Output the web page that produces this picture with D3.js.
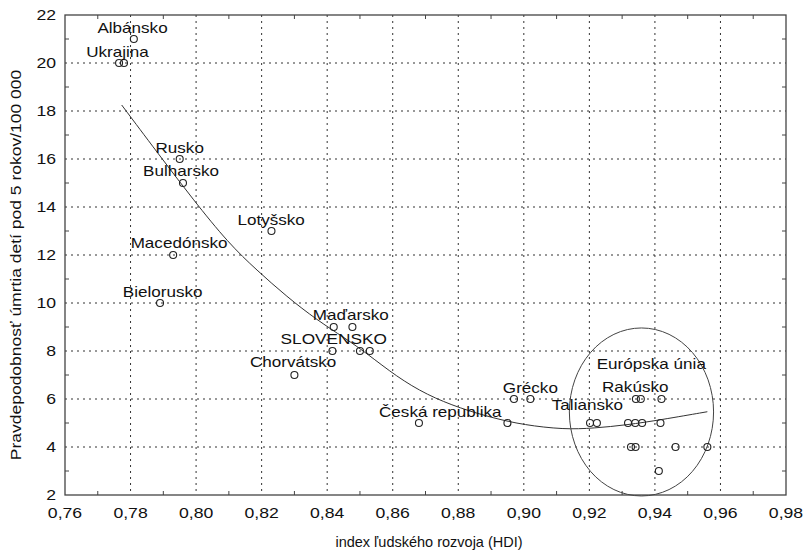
<!DOCTYPE html>
<html lang="sk">
<head>
<meta charset="UTF-8">
<title>HDI a úmrtnosť detí</title>
<script src="https://d3js.org/d3.v7.min.js"></script>
<style>
  body { margin: 0; background: #fff; }
  svg text { font-family: "Liberation Sans", Arial, sans-serif; fill: #111; }
  .grid line { stroke: #333; stroke-width: 1; stroke-dasharray: 2,4; }
  .frame { fill: none; stroke: #444; stroke-width: 1.3; }
  .minor line { stroke: #444; }
  .pt { fill: none; stroke: #222; stroke-width: 1.1; }
  .fit { fill: none; stroke: #333; stroke-width: 1; }
  .eu { fill: none; stroke: #444; stroke-width: 1; }
</style>
</head>
<body>
<svg width="803" height="552"></svg>
<script>
// axis ticks
const xTicks = [0.76, 0.78, 0.80, 0.82, 0.84, 0.86, 0.88, 0.90, 0.92, 0.94, 0.96, 0.98];
const yTicks = [2, 4, 6, 8, 10, 12, 14, 16, 18, 20, 22];

// observations: HDI vs. mortality under 5 (per 100 000)
const hdi = [0.781, 0.7765, 0.778, 0.795, 0.796, 0.823, 0.793, 0.789,
             0.842, 0.8477, 0.8416, 0.850, 0.853, 0.830, 0.868, 0.895,
             0.897, 0.902, 0.9342, 0.9357, 0.942, 0.9202, 0.9223, 0.9318,
             0.934, 0.9361, 0.9417, 0.9327, 0.9341, 0.9463, 0.956, 0.9412];
const mortality = [21, 20, 20, 16, 15, 13, 12, 10,
                   9, 9, 8, 8, 8, 7, 5, 5,
                   6, 6, 6, 6, 6, 5, 5, 5,
                   5, 5, 5, 4, 4, 4, 4, 3];

// fitted curve
const fitX = [0.7773, 0.788, 0.7992, 0.8099, 0.8185, 0.8277, 0.8369, 0.8455, 0.8521,
              0.8612, 0.8704, 0.8806, 0.8908, 0.900, 0.9122, 0.9213, 0.9315, 0.9417, 0.956];
const fitY = [18.25, 16.3, 14.29, 12.49, 11.37, 10.26, 9.29, 8.53, 7.90,
              6.93, 6.17, 5.61, 5.2, 4.92, 4.73, 4.78, 4.92, 5.13, 5.47];

// country labels (anchor in data units)
const labelText = ["Albánsko", "Ukrajina", "Rusko", "Bulharsko", "Lotyšsko", "Macedónsko",
                   "Bielorusko", "Maďarsko", "SLOVENSKO", "Chorvátsko", "Česká republika",
                   "Grécko", "Taliansko", "Rakúsko", "Európska únia"];
const labelX = [0.7806, 0.7760, 0.7950, 0.7954, 0.8229, 0.7948, 0.7898, 0.8472, 0.8420,
                0.8296, 0.8745, 0.9020, 0.9194, 0.9340, 0.9389];
const labelY = [21.25, 20.25, 16.25, 15.29, 13.25, 12.29, 10.25, 9.29, 8.29,
                7.33, 5.25, 6.25, 5.54, 6.29, 7.25];

// EU ellipse (data units)
const euCenter = [0.9359, 5.46];
const euRadius = [0.022, 3.5];

const xTitle = "index ľudského rozvoja (HDI)";
const yTitle = "Pravdepodobnosť úmrtia detí pod 5 rokov/100 000";

const svg = d3.select("svg");
const margin = {top: 15, right: 17, bottom: 57, left: 65};
const width = +svg.attr("width") - margin.left - margin.right;
const height = +svg.attr("height") - margin.top - margin.bottom;
const g = svg.append("g").attr("transform", `translate(${margin.left},${margin.top})`);

const x = d3.scaleLinear().domain([0.76, 0.98]).range([0, width]);
const y = d3.scaleLinear().domain([2, 22]).range([height, 0]);

const fmt = d => d3.format(".2f")(d).replace(".", ",");

// the original lettering is wide, so text is stretched along its run
function placeText(sel, px, py, sx, rot) {
  sel.attr("transform", `translate(${px},${py})` + (rot ? ` rotate(${rot})` : "") + ` scale(${sx},1)`);
}

// gridlines
const grid = g.append("g").attr("class", "grid");
grid.selectAll(".vx").data(xTicks.slice(1, -1)).join("line")
  .attr("x1", d => x(d)).attr("x2", d => x(d)).attr("y1", 0).attr("y2", height);
grid.selectAll(".hy").data(yTicks.slice(1, -1)).join("line")
  .attr("class", "hy")
  .attr("y1", d => y(d)).attr("y2", d => y(d)).attr("x1", 0).attr("x2", width);

// minor ticks inside the frame
const xMinor = d3.range(11).map(i => 0.77 + i * 0.02);
const yMinor = d3.range(10).map(i => 3 + i * 2);
const minor = g.append("g").attr("class", "minor");
[0, height].forEach((yy, k) => {
  minor.append("g").selectAll("line").data(xMinor).join("line")
    .attr("x1", d => x(d)).attr("x2", d => x(d))
    .attr("y1", yy).attr("y2", k ? yy - 4 : yy + 4);
});
[0, width].forEach((xx, k) => {
  minor.append("g").selectAll("line").data(yMinor).join("line")
    .attr("y1", d => y(d)).attr("y2", d => y(d))
    .attr("x1", xx).attr("x2", k ? xx - 4 : xx + 4);
});

g.append("rect").attr("class", "frame").attr("width", width).attr("height", height);

// tick labels
g.append("g").selectAll("text").data(xTicks).join("text")
  .attr("text-anchor", "middle").style("font-size", "14px")
  .text(fmt)
  .each(function (d) { placeText(d3.select(this), x(d), height + 23, 1.26); });
g.append("g").selectAll("text").data(yTicks).join("text")
  .attr("text-anchor", "end").style("font-size", "14px")
  .text(d => d)
  .each(function (d) { placeText(d3.select(this), -9, y(d) + 5, 1.26); });

// axis titles
g.append("text").attr("text-anchor", "middle").style("font-size", "14.5px")
  .text(xTitle)
  .call(s => placeText(s, 364, height + 52, 1.0));
g.append("text").attr("text-anchor", "middle").style("font-size", "14px")
  .text(yTitle)
  .call(s => placeText(s, -44, 250, 1.25, -90));

// fitted curve
const fit = fitX.map((v, i) => [v, fitY[i]]);
g.append("path").attr("class", "fit")
  .attr("d", d3.line().x(d => x(d[0])).y(d => y(d[1])).curve(d3.curveBasis)(fit));

// EU ellipse
g.append("ellipse").attr("class", "eu")
  .attr("cx", x(euCenter[0])).attr("cy", y(euCenter[1]))
  .attr("rx", x(euCenter[0] + euRadius[0]) - x(euCenter[0]))
  .attr("ry", y(euCenter[1] - euRadius[1]) - y(euCenter[1]));

// points
g.append("g").selectAll("circle").data(hdi).join("circle")
  .attr("class", "pt").attr("r", 3.5)
  .attr("cx", d => x(d)).attr("cy", (d, i) => y(mortality[i]));

// labels
g.append("g").selectAll("text").data(labelText).join("text")
  .attr("text-anchor", "middle")
  .style("font-size", d => d === "SLOVENSKO" ? "15px" : "14px")
  .text(d => d)
  .each(function (d, i) { placeText(d3.select(this), x(labelX[i]), y(labelY[i]), d === "SLOVENSKO" ? 1.15 : 1.22); });
</script>
</body>
</html>
